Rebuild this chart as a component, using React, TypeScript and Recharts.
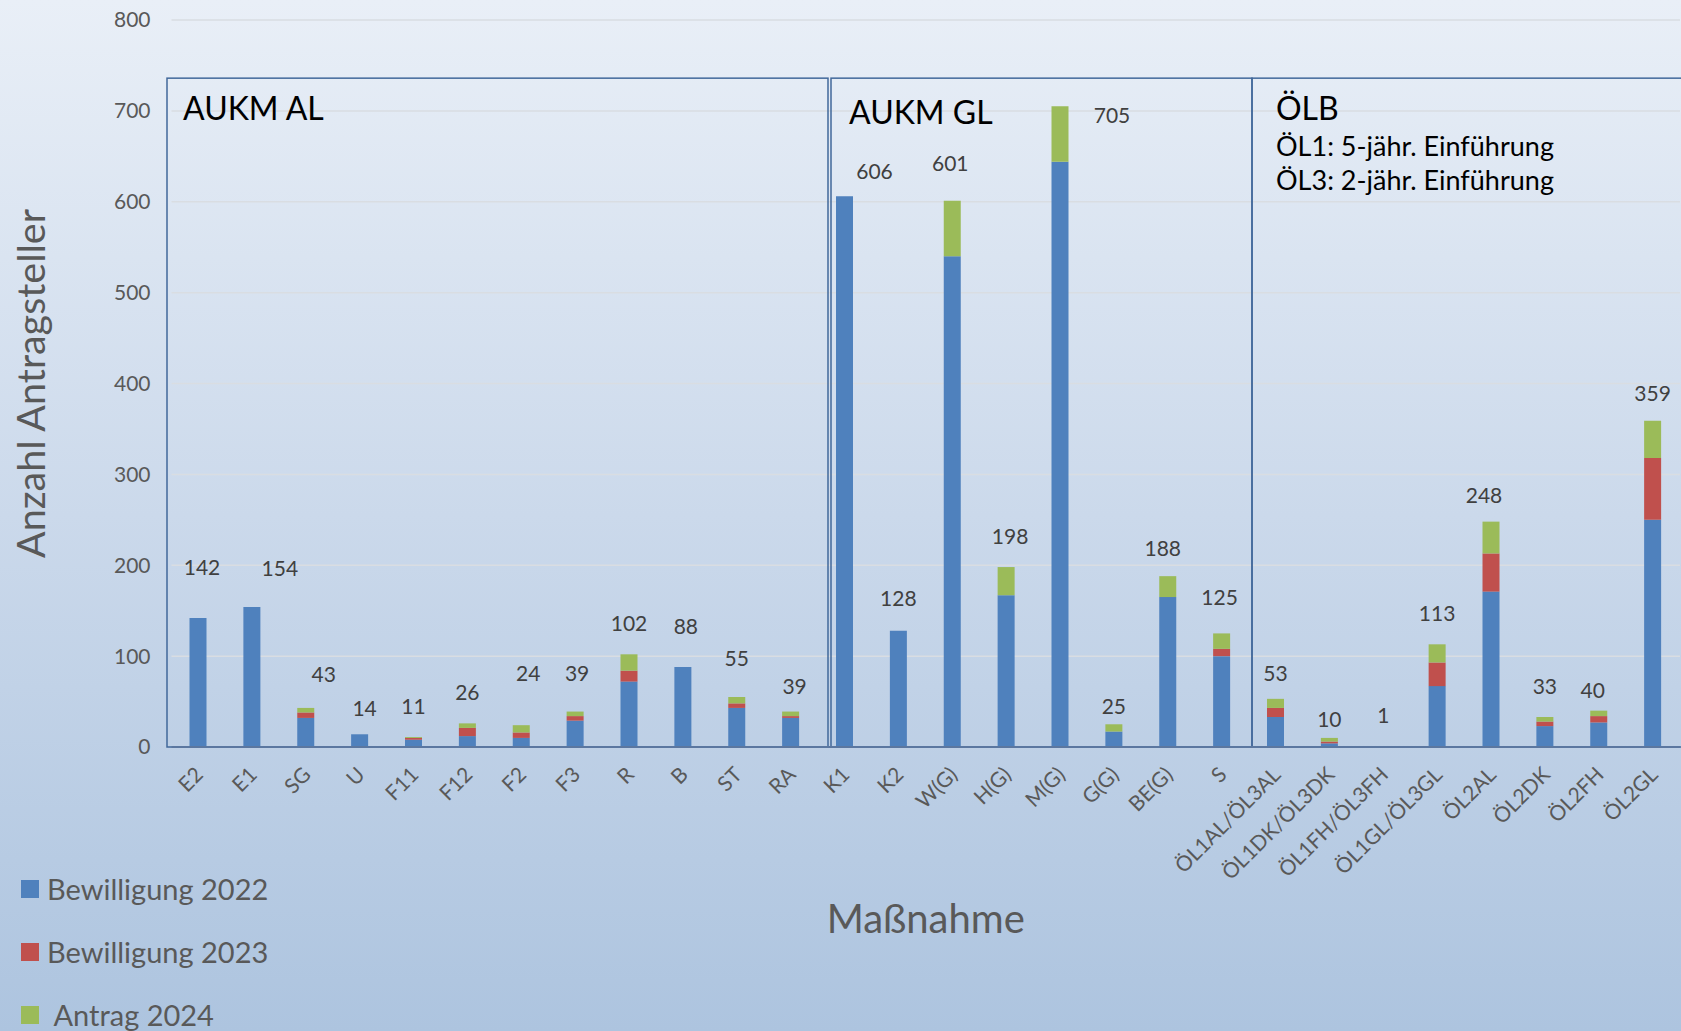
import { Bar, BarChart, CartesianGrid, LabelList, ReferenceArea, XAxis, YAxis } from "recharts";

const categories = [
  "E2", "E1", "SG", "U", "F11", "F12", "F2", "F3", "R", "B", "ST", "RA",
  "K1", "K2", "W(G)", "H(G)", "M(G)", "G(G)", "BE(G)", "S",
  "ÖL1AL/ÖL3AL", "ÖL1DK/ÖL3DK", "ÖL1FH/ÖL3FH", "ÖL1GL/ÖL3GL", "ÖL2AL", "ÖL2DK", "ÖL2FH", "ÖL2GL",
];
const bewilligung2022 = [142, 154, 32, 14, 8, 12, 10, 29, 72, 88, 43, 32, 606, 128, 540, 167, 644, 17, 165, 100, 33, 4, 1, 67, 171, 23, 27, 250];
const bewilligung2023 = [0, 0, 6, 0, 2, 9, 6, 5, 12, 0, 5, 2, 0, 0, 0, 0, 0, 0, 0, 8, 10, 2, 0, 26, 42, 5, 7, 68];
const antrag2024 = [0, 0, 5, 0, 1, 5, 8, 5, 18, 0, 7, 5, 0, 0, 61, 31, 61, 8, 23, 17, 10, 4, 0, 20, 35, 5, 6, 41];
const yTicks = [0, 100, 200, 300, 400, 500, 600, 700, 800];

const series = [
  { key: "b22", label: "Bewilligung 2022", color: "#4F81BD", values: bewilligung2022 },
  { key: "b23", label: "Bewilligung 2023", color: "#C0504D", values: bewilligung2023 },
  { key: "a24", label: " Antrag 2024", color: "#9BBB59", values: antrag2024 },
];

const groups = [
  { from: "E2", to: "RA", title: "AUKM AL", notes: [] as string[] },
  { from: "K1", to: "S", title: "AUKM GL", notes: [] as string[] },
  { from: "ÖL1AL/ÖL3AL", to: "ÖL2GL", title: "ÖLB", notes: ["ÖL1: 5-jähr. Einführung", "ÖL3: 2-jähr. Einführung"] },
];
const boxTop = 736;

// box edges were placed by hand in the original, tweak [left, right, titleX, titleY]
const boxStyle = [
  [-4.5, 10, 16, 42],
  [13, 3, 18, 46],
  [3, 40, 24, 42],
];

// hand-placed data labels in the original: [dx, dy]
const labelNudge: Record<string, [number, number]> = {
  E2: [4, -20],
  E1: [28, -8],
  SG: [18, -3],
  U: [5, 5],
  F2: [7, -21],
  F3: [2, -8],
  B: [3, -10],
  ST: [0, -8],
  RA: [4, 5],
  K1: [30, 6],
  K2: [0, -2],
  "W(G)": [-2, -7],
  "H(G)": [4, 0],
  "M(G)": [52, 40],
  "G(G)": [0, 13],
  "BE(G)": [-5, 3],
  S: [-2, -5],
  "ÖL1AL/ÖL3AL": [0, 5],
  "ÖL1DK/ÖL3DK": [0, 12],
  "ÖL2AL": [-7, 4],
  "ÖL2FH": [-6, 10],
  "ÖL2GL": [0, 3],
};

const font = "Lato, 'Open Sans', sans-serif";

const data = categories.map((name, i) => ({
  name,
  b22: bewilligung2022[i],
  b23: bewilligung2023[i],
  a24: antrag2024[i],
}));
const totals: Record<string, number> = {};
const topSeries: Record<string, number> = {};
categories.forEach((c, i) => {
  totals[c] = bewilligung2022[i] + bewilligung2023[i] + antrag2024[i];
  let top = 0;
  series.forEach((s, k) => {
    if (s.values[i] > 0) top = k;
  });
  topSeries[c] = top;
});

function CategoryTick(props: any) {
  const { x, y, payload } = props;
  const tx = x + 6;
  const ty = y + 29;
  return (
    <text
      x={tx}
      y={ty}
      transform={`rotate(-45 ${tx} ${ty})`}
      textAnchor="end"
      fontSize={21}
      fill="#595959"
      fontFamily={font}
    >
      {payload.value}
    </text>
  );
}

function makeTotalLabel(seriesIndex: number) {
  return (props: any) => {
    const { x, y, width, value } = props;
    if (topSeries[value] !== seriesIndex) return null;
    const [dx, dy] = labelNudge[value] ?? [0, 0];
    return (
      <text
        x={Number(x) + Number(width) / 2 + dx}
        y={Number(y) - 23 + dy}
        textAnchor="middle"
        fontSize={21}
        fill="#404040"
        fontFamily={font}
      >
        {totals[value]}
      </text>
    );
  };
}

function groupShape(i: number) {
  return (props: any) => {
    const { x, y, width, height } = props;
    const [l, r, tx, ty] = boxStyle[i];
    const g = groups[i];
    const left = x + l;
    return (
      <g>
        <rect
          x={left}
          y={y}
          width={width - l + r}
          height={height}
          fill="none"
          stroke="#41689A"
          strokeWidth={1.5}
        />
        <text x={left + tx} y={y + ty} fontSize={32} fill="#000" fontFamily={font}>
          {g.title}
        </text>
        {g.notes.map((n, k) => (
          <text key={n} x={left + tx} y={y + ty + 36 + k * 34} fontSize={27} fill="#000" fontFamily={font}>
            {n}
          </text>
        ))}
      </g>
    );
  };
}

export default function App() {
  return (
    <div
      style={{
        position: "fixed",
        left: 0,
        top: 0,
        width: 1681,
        height: 1031,
        overflow: "hidden",
        background: "linear-gradient(180deg, #e9eff7 0%, #cbd9eb 50%, #adc4df 100%)",
        fontFamily: font,
      }}
    >
      <BarChart
        width={1700}
        height={1031}
        data={data}
        margin={{ top: 20, right: 20, bottom: 154, left: 0 }}
        barSize={17}
      >
        <CartesianGrid vertical={false} stroke="#d9dde2" strokeWidth={1.5} />
        <XAxis
          dataKey="name"
          interval={0}
          height={130}
          tickSize={0}
          tickMargin={0}
          tickLine={false}
          axisLine={{ stroke: "#5b77a0", strokeWidth: 2 }}
          tick={<CategoryTick />}
          label={({ viewBox }: any) => (
            <text
              x={viewBox.x + viewBox.width / 2}
              y={viewBox.y + 171}
              textAnchor="middle"
              dominantBaseline="central"
              fontSize={40}
              fill="#595959"
              fontFamily={font}
            >
              Maßnahme
            </text>
          )}
        />
        <YAxis
          domain={[0, 800]}
          ticks={yTicks}
          width={171.5}
          tickSize={0}
          tickMargin={21}
          axisLine={false}
          tickLine={false}
          tick={{ fill: "#595959", fontSize: 21, fontFamily: font }}
          label={({ viewBox }: any) => {
            const cx = viewBox.x + 29;
            const cy = viewBox.y + viewBox.height / 2;
            return (
              <text
                x={cx}
                y={cy}
                transform={`rotate(-90 ${cx} ${cy})`}
                textAnchor="middle"
                dominantBaseline="central"
                fontSize={39.5}
                fill="#595959"
                fontFamily={font}
              >
                Anzahl Antragsteller
              </text>
            );
          }}
        />
        {series.map((s, i) => (
          <Bar key={s.key} dataKey={s.key} stackId="a" fill={s.color} isAnimationActive={false}>
            <LabelList dataKey="name" content={makeTotalLabel(i)} />
          </Bar>
        ))}
        {groups.map((g, i) => (
          <ReferenceArea
            key={g.title}
            x1={g.from}
            x2={g.to}
            y1={0}
            y2={boxTop}
            ifOverflow="visible"
            shape={groupShape(i)}
          />
        ))}
      </BarChart>
      <div style={{ position: "absolute", left: 21, top: 857 }}>
        {series.map((s) => (
          <div key={s.key} style={{ display: "flex", alignItems: "center", height: 63 }}>
            <span style={{ width: 18, height: 18, background: s.color, display: "inline-block" }} />
            <span style={{ marginLeft: 8, fontSize: 29, color: "#595959", whiteSpace: "pre" }}>{s.label}</span>
          </div>
        ))}
      </div>
    </div>
  );
}
